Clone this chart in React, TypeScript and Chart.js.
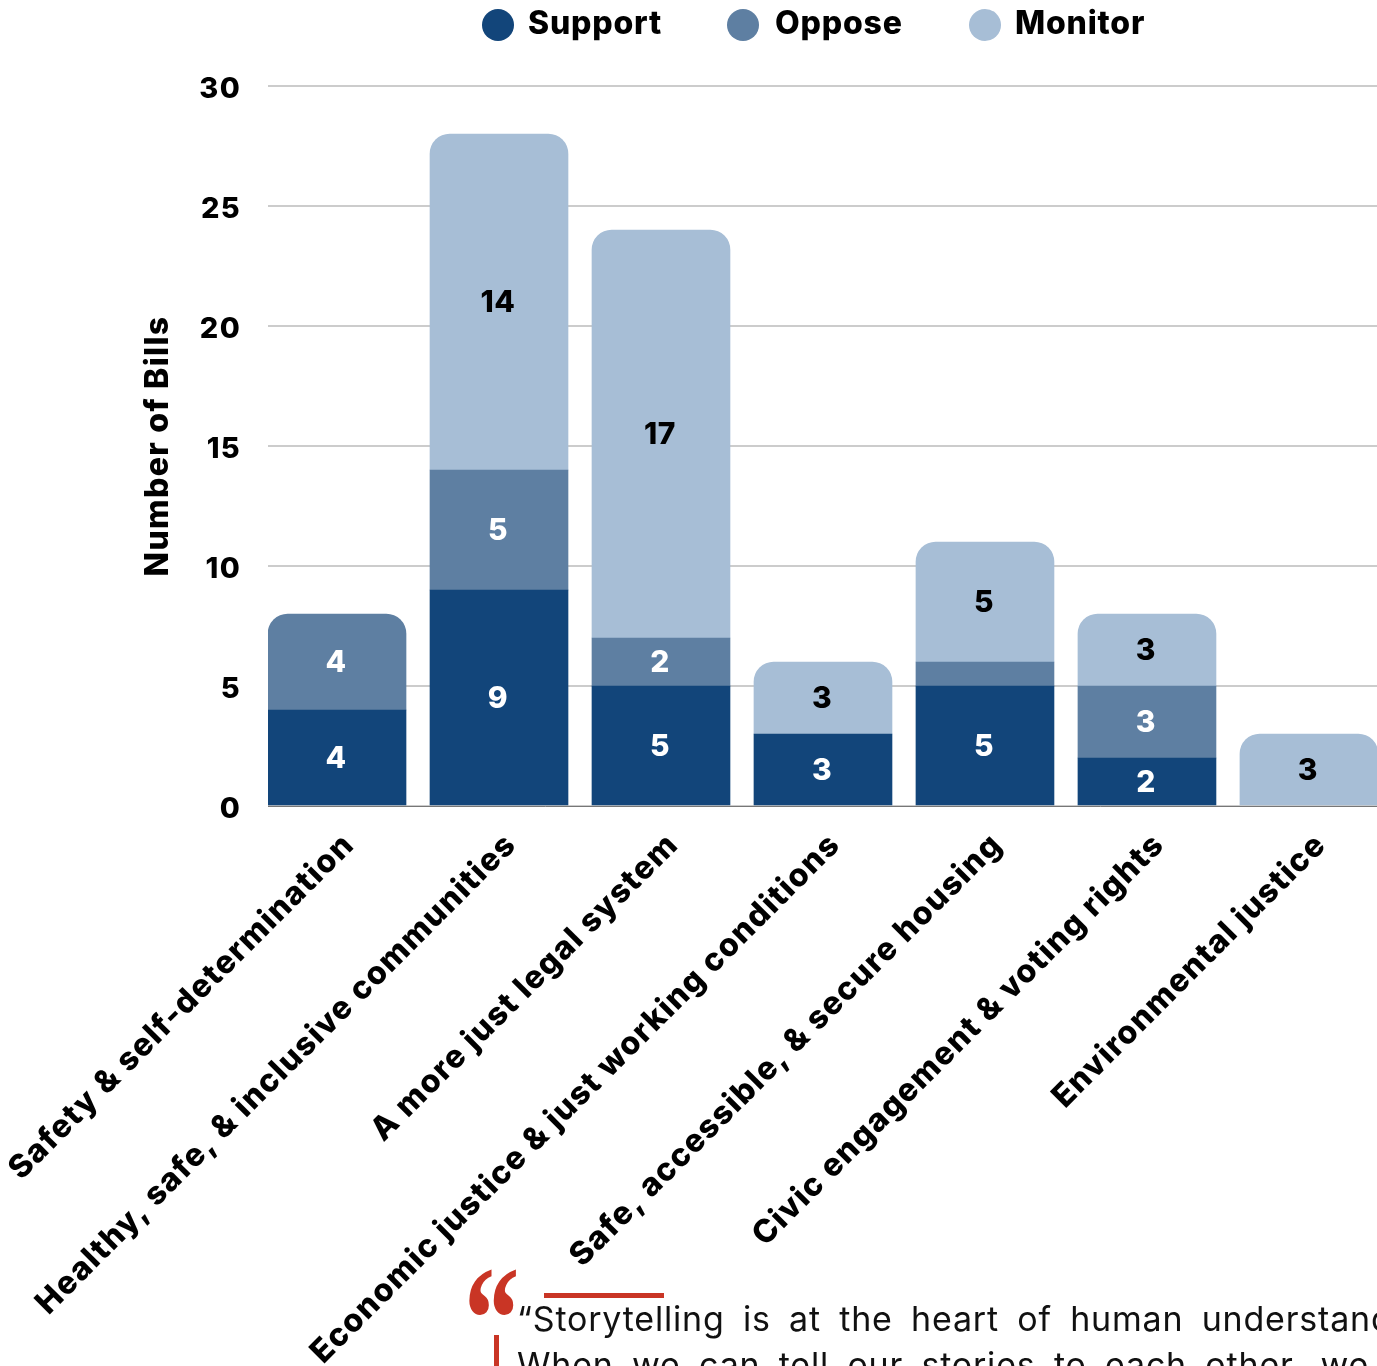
import React, { useEffect, useRef } from "react";
import { Chart, registerables } from "chart.js";

Chart.register(...registerables);

const categories = [
  "Safety & self-determination",
  "Healthy, safe, & inclusive communities",
  "A more just legal system",
  "Economic justice & just working conditions",
  "Safe, accessible, & secure housing",
  "Civic engagement & voting rights",
  "Environmental justice",
];
const support = [4, 9, 5, 3, 5, 2, 0];
const oppose = [4, 5, 2, 0, 1, 3, 0];
const monitor = [0, 14, 17, 3, 5, 3, 3];
const seriesNames = ["Support", "Oppose", "Monitor"];
const seriesColors = ["#12457A", "#5E7FA2", "#A7BED6"];
const labelColors = ["#FFFFFF", "#FFFFFF", "#000000"];
const legendLefts = [482, 727, 969];
const legendGaps = [14, 16, 14];
const yTicks = [0, 5, 10, 15, 20, 25, 30];
const xMin = -0.426;
const xMax = 6.42;
const FONT = "Inter, sans-serif";

const seriesValues = [support, oppose, monitor];

const textSpacing = {
  id: "textSpacing",
  beforeDraw(chart: any) {
    chart.ctx.letterSpacing = "1.3px";
  },
};

const segmentLabels = {
  id: "segmentLabels",
  afterDatasetsDraw(chart: any) {
    const ctx = chart.ctx;
    ctx.save();
    ctx.letterSpacing = "0.5px";
    ctx.font = `800 30px ${FONT}`;
    ctx.textAlign = "center";
    ctx.textBaseline = "middle";
    chart.data.datasets.forEach((ds: any, d: number) => {
      chart.getDatasetMeta(d).data.forEach((bar: any, i: number) => {
        const v = seriesValues[d][i];
        if (v < 2) return;
        ctx.fillStyle = labelColors[d];
        ctx.fillText(String(v), bar.x - 1, (bar.y + bar.base) / 2 + 1);
      });
    });
    ctx.restore();
  },
};

export default function App() {
  const ref = useRef<HTMLCanvasElement>(null);

  useEffect(() => {
    const isTop = (d: number, i: number) =>
      seriesValues[d][i] > 0 && seriesValues.slice(d + 1).every((s) => s[i] === 0);
    const canvas = ref.current as HTMLCanvasElement;
    const chart = new Chart(canvas, {
      type: "bar",
      data: {
        datasets: seriesNames.map((name, d) => ({
          label: name,
          data: seriesValues[d].map((v, i) => ({ x: i, y: v })),
          backgroundColor: (c: any) =>
            seriesValues[d][c.dataIndex] > 0 ? seriesColors[d] : "transparent",
          barThickness: 138,
          borderSkipped: false,
          borderWidth: 0,
          borderRadius: (c: any) =>
            isTop(d, c.dataIndex)
              ? { topLeft: 20, topRight: 20, bottomLeft: 0, bottomRight: 0 }
              : 0,
        })),
      },
      plugins: [textSpacing, segmentLabels],
      options: {
        animation: false,
        responsive: false,
        layout: { padding: { top: 86, left: 0, right: 0, bottom: 0 } },
        plugins: { legend: { display: false }, tooltip: { enabled: false } },
        scales: {
          x: {
            type: "linear",
            bounds: "data",
            offset: false,
            stacked: true,
            min: xMin,
            max: xMax,
            afterFit: (s: any) => {
              s.height = 560;
              s.paddingLeft = 0;
              s.paddingRight = 0;
            },
            afterBuildTicks: (s: any) => {
              s.ticks = categories.map((_, value) => ({ value }));
            },
            grid: { display: false, offset: false },
            border: { display: true, color: "#777777", width: 1 },
            ticks: {
              stepSize: 1,
              includeBounds: false,
              autoSkip: false,
              maxRotation: 45,
              minRotation: 45,
              padding: 12,
              labelOffset: 12,
              color: "#000000",
              font: { family: FONT, size: 32, weight: "800" },
              callback: (v: any) => categories[v],
            },
          },
          y: {
            stacked: true,
            min: 0,
            max: 30,
            afterFit: (s: any) => {
              s.width = 268;
            },
            afterBuildTicks: (s: any) => {
              s.ticks = yTicks.map((value) => ({ value }));
            },
            grid: { color: "#CCCCCC", lineWidth: 2, drawTicks: false },
            border: { display: false },
            title: {
              display: true,
              text: "Number of Bills",
              color: "#000000",
              font: { family: FONT, size: 32, weight: "800" },
              padding: { top: 139, bottom: 0 },
            },
            ticks: {
              padding: 27,
              labelOffset: 3,
              color: "#000000",
              font: { family: FONT, size: 29, weight: "800" },
            },
          },
        },
      },
    } as any);
    return () => chart.destroy();
  }, []);

  return (
    <div
      style={{
        position: "absolute",
        left: 0,
        top: 0,
        width: 1377,
        height: 1366,
        overflow: "hidden",
        background: "#fff",
      }}
    >
      <canvas ref={ref} width={1377} height={1366} style={{ display: "block" }} />
      {seriesNames.map((name, d) => (
        <div
          key={name}
          style={{
            position: "absolute",
            left: legendLefts[d],
            top: 0,
            height: 50,
            display: "flex",
            alignItems: "center",
            fontFamily: FONT,
            fontWeight: 800,
            fontSize: 32,
            letterSpacing: 0.8,
            color: "#000",
            whiteSpace: "nowrap",
          }}
        >
          <span
            style={{
              width: 32,
              height: 32,
              borderRadius: "50%",
              background: seriesColors[d],
              marginRight: legendGaps[d],
            }}
          />
          <span style={{ position: "relative", top: -3 }}>{name}</span>
        </div>
      ))}
      <div
        style={{
          position: "absolute",
          left: 464,
          top: 1244,
          fontFamily: "'Liberation Serif', serif",
          fontWeight: 700,
          fontSize: 150,
          lineHeight: "150px",
          color: "#C93525",
          transform: "scale(0.74, 1)",
          transformOrigin: "left top",
        }}
      >
        “
      </div>
      <div style={{ position: "absolute", left: 544, top: 1293, width: 120, height: 5, background: "#C93525" }} />
      <div style={{ position: "absolute", left: 494, top: 1335, width: 5, height: 31, background: "#C93525" }} />
      <div
        style={{
          position: "absolute",
          left: 517,
          top: 1296,
          width: 1000,
          fontFamily: "'Inter', sans-serif",
          fontSize: 34,
          lineHeight: "46px",
          letterSpacing: 0.8,
          wordSpacing: 8,
          color: "#111",
          whiteSpace: "nowrap",
        }}
      >
        “Storytelling is at the heart of human understanding.
        <br />
        When we can tell our stories to each other, we have
      </div>
    </div>
  );
}
